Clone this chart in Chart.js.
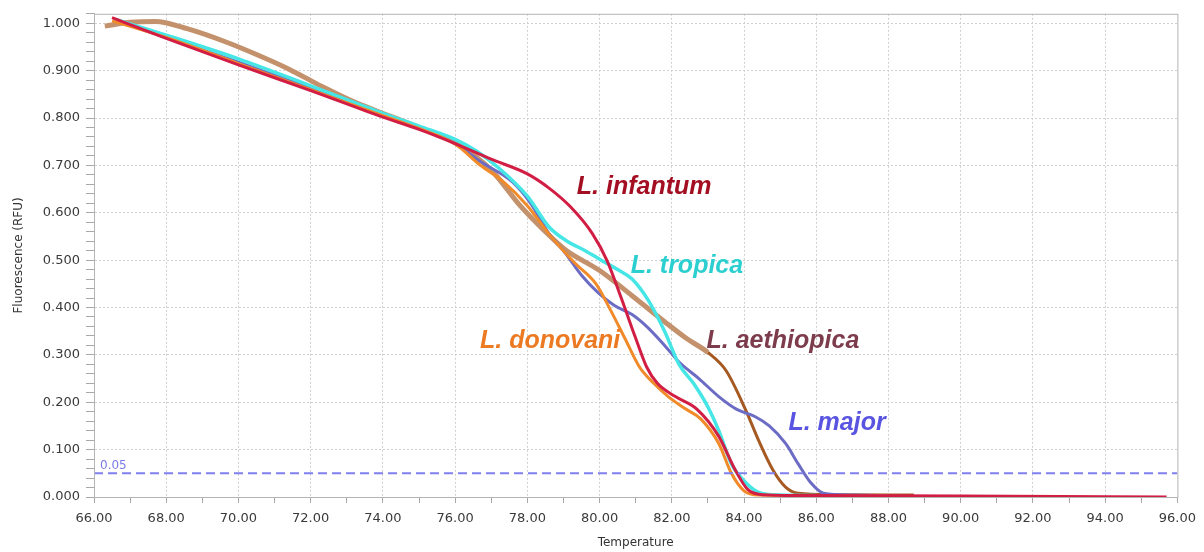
<!DOCTYPE html>
<html>
<head>
<meta charset="utf-8">
<script src="https://cdn.jsdelivr.net/npm/chart.js@4/dist/chart.umd.min.js"></script>
<style>
  html, body { margin: 0; padding: 0; background: #fff; }
  #wrap { width: 1204px; height: 552px; }
</style>
</head>
<body>
<div id="wrap"><canvas id="chart"></canvas></div>
<script>
// melt curves (temperature in °C, fluorescence in RFU)
const infantumT = [66.5, 68, 70, 72, 74, 75, 76, 77, 78, 78.6, 79.2, 79.8, 80.2, 80.6, 81.0, 81.3, 81.6, 82.1, 82.7, 83.3, 83.75, 84.1, 84.5, 86, 90, 95.7];
const infantumV = [1.012, 0.968, 0.912, 0.858, 0.802, 0.776, 0.746, 0.713, 0.682, 0.652, 0.612, 0.556, 0.500, 0.420, 0.335, 0.275, 0.240, 0.212, 0.185, 0.128, 0.058, 0.016, 0.005, 0.003, 0.002, 0.000];

const donovaniT = [66.5, 68, 70, 72, 74, 75, 76, 76.7, 77.3, 78.0, 78.6, 79.3, 79.9, 80.3, 80.7, 81.1, 81.5, 81.9, 82.4, 82.8, 83.3, 83.65, 84.0, 84.4, 88];
const donovaniV = [1.005, 0.970, 0.915, 0.860, 0.805, 0.778, 0.745, 0.700, 0.668, 0.615, 0.555, 0.495, 0.450, 0.395, 0.335, 0.275, 0.240, 0.212, 0.185, 0.165, 0.113, 0.050, 0.013, 0.004, 0.002];

const tropicaT = [66.6, 68, 70, 72, 74, 75, 76, 76.6, 77.2, 78.0, 78.6, 79.1, 79.6, 80.0, 80.5, 80.9, 81.35, 81.8, 82.2, 82.6, 83.0, 83.3, 83.65, 84.05, 84.4, 85, 86];
const tropicaV = [1.008, 0.975, 0.925, 0.868, 0.810, 0.783, 0.755, 0.730, 0.695, 0.635, 0.570, 0.540, 0.520, 0.502, 0.480, 0.460, 0.415, 0.350, 0.280, 0.240, 0.190, 0.140, 0.070, 0.030, 0.010, 0.004, 0.003];

const majorT = [66.6, 68, 70, 72, 74, 75, 76, 76.7, 77.6, 78.1, 78.6, 79.05, 79.5, 79.95, 80.4, 80.9, 81.3, 81.8, 82.2, 82.75, 83.3, 83.8, 84.3, 84.7, 85.15, 85.5, 85.85, 86.2, 87, 88];
const majorV = [1.005, 0.970, 0.918, 0.863, 0.806, 0.778, 0.746, 0.708, 0.664, 0.619, 0.556, 0.515, 0.468, 0.432, 0.405, 0.385, 0.360, 0.320, 0.285, 0.250, 0.212, 0.185, 0.170, 0.150, 0.113, 0.070, 0.030, 0.008, 0.004, 0.003];

const aethiopicaT = [66.3, 67, 67.7, 68.6, 69.6, 70.5, 71.4, 72.3, 73.2, 74.2, 75, 76, 77, 77.8, 78.5, 79.05, 80.0, 80.9, 81.8, 82.4, 83.0, 83.5, 84.05, 84.4, 84.8, 85.15, 85.5, 86.5, 88.7];
const aethiopicaV = [0.994, 1.002, 1.004, 0.988, 0.962, 0.934, 0.903, 0.867, 0.834, 0.804, 0.780, 0.748, 0.690, 0.615, 0.560, 0.522, 0.478, 0.425, 0.370, 0.335, 0.305, 0.267, 0.183, 0.120, 0.057, 0.021, 0.008, 0.005, 0.004];

const threshold = 0.05;
const xMin = 66, xMax = 96;

const speciesNames = ['L. infantum', 'L. tropica', 'L. donovani', 'L. aethiopica', 'L. major'];
const labelT = [79.37, 80.86, 76.69, 82.96, 85.23];
const labelV = [0.64, 0.472, 0.314, 0.314, 0.141];
const labelColors = ['#a30e22', '#2ccfd0', '#ec7a22', '#7c3c4c', '#5a55e0'];

function pts(ts, vs) { return ts.map((t, i) => ({ x: t, y: vs[i] })); }

function isMajor(v, step) { return Math.abs(v / step - Math.round(v / step)) < 1e-6; }

const labelsPlugin = {
  id: 'labels',
  afterDatasetsDraw(chart) {
    const { ctx, scales: { x, y }, chartArea } = chart;
    ctx.save();
    ctx.strokeStyle = '#b4b4b4';
    ctx.lineWidth = 1;
    ctx.strokeRect(chartArea.left + 0.5, chartArea.top + 0.5, chartArea.right - chartArea.left, chartArea.bottom - chartArea.top);

    ctx.font = 'bold italic 25px "Liberation Sans", Arial, sans-serif';
    ctx.textBaseline = 'alphabetic';
    ctx.textAlign = 'left';
    speciesNames.forEach((name, i) => {
      ctx.fillStyle = labelColors[i];
      ctx.fillText(name, x.getPixelForValue(labelT[i]), y.getPixelForValue(labelV[i]));
    });

    ctx.font = '12px "DejaVu Sans", sans-serif';
    ctx.fillStyle = '#7b7be6';
    ctx.fillText('0.05', x.getPixelForValue(xMin) + 6, y.getPixelForValue(threshold) - 4);
    ctx.restore();
  }
};

const line = (label, data, color, width, order) => ({
  label: label,
  data: data,
  borderColor: color,
  borderWidth: width,
  pointRadius: 0,
  cubicInterpolationMode: 'monotone',
  fill: false,
  order: order,
});

new Chart('chart', {
  type: 'line',
  plugins: [labelsPlugin],
  data: {
    datasets: [
      line('L. infantum', pts(infantumT, infantumV), '#d21e44', 3, 1),
      line('L. donovani', pts(donovaniT, donovaniV), '#f18a28', 3, 2),
      line('L. tropica', pts(tropicaT, tropicaV), '#46e6e6', 3.5, 3),
      line('L. major', pts(majorT, majorV), '#6c6cc4', 3, 4),
      Object.assign(line('L. aethiopica', pts(aethiopicaT, aethiopicaV), '#c3926c', 5, 5), {
        segment: { borderColor: (c) => c.p0.parsed.x >= 83 ? '#a65a22' : '#c3926c',
                   borderWidth: (c) => c.p0.parsed.x >= 83 ? 3 : 5 },
      }),
      {
        label: 'threshold',
        data: [{ x: xMin, y: threshold }, { x: xMax, y: threshold }],
        borderColor: '#7f7fee',
        borderWidth: 2,
        borderDash: [9, 5],
        pointRadius: 0,
        order: 0,
      },
    ],
  },
  options: {
    responsive: true,
    maintainAspectRatio: false,
    animation: false,
    layout: { padding: { top: 12, right: 24, left: 0, bottom: 0 } },
    plugins: { legend: { display: false }, tooltip: { enabled: false } },
    scales: {
      x: {
        type: 'linear',
        min: xMin,
        max: xMax,
        afterFit: (s) => { s.height = 55; },
        ticks: {
          stepSize: 1,
          autoSkip: false,
          maxRotation: 0,
          padding: 8,
          color: '#3a3a3a',
          font: { family: '"DejaVu Sans", sans-serif', size: 13 },
          callback: (v) => isMajor(v, 2) ? v.toFixed(2) : '',
        },
        grid: {
          color: (c) => isMajor(c.tick.value, 2) && c.tick.value > xMin && c.tick.value < xMax ? '#cfcfcf' : 'rgba(0,0,0,0)',
          tickColor: '#a8a8a8',
          tickLength: 6,
          lineWidth: 1,
        },
        border: { color: '#b4b4b4', dash: [2, 2] },
        title: {
          display: true,
          text: 'Temperature',
          color: '#333',
          font: { family: '"DejaVu Sans", sans-serif', size: 12 },
          padding: { top: 0, bottom: 2 },
        },
      },
      y: {
        min: 0,
        max: 1.02,
        afterFit: (s) => { s.width = 94; },
        ticks: {
          stepSize: 0.02,
          autoSkip: false,
          padding: 6,
          color: '#3a3a3a',
          font: { family: '"DejaVu Sans", sans-serif', size: 13 },
          callback: (v) => isMajor(v, 0.1) ? v.toFixed(3) : '',
        },
        grid: {
          color: (c) => isMajor(c.tick.value, 0.1) && c.tick.value > 0 ? '#cfcfcf' : 'rgba(0,0,0,0)',
          tickColor: '#a8a8a8',
          tickLength: 8,
          lineWidth: 1,
        },
        border: { color: '#b4b4b4', dash: [2, 2] },
        title: {
          display: true,
          text: 'Fluorescence (RFU)',
          color: '#333',
          font: { family: '"DejaVu Sans", sans-serif', size: 12 },
          padding: { top: 12, bottom: 0 },
        },
      },
    },
  },
});
</script>
</body>
</html>
